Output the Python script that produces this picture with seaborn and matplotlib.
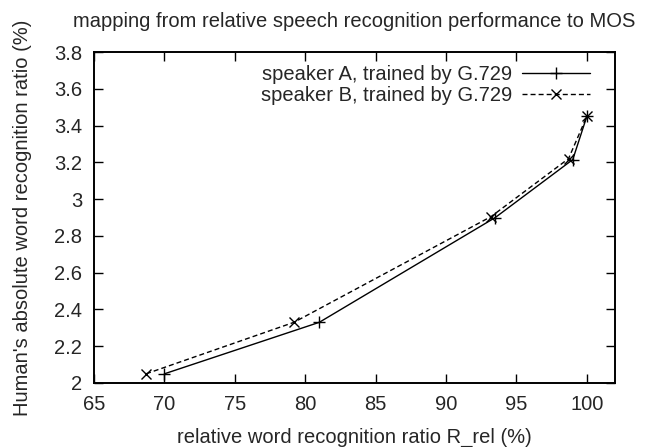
import matplotlib
matplotlib.use("Agg")
import matplotlib.pyplot as plt
import seaborn as sns

sns.set_theme(style="white")
plt.rcParams['font.family'] = ['Liberation Sans', 'DejaVu Sans']

title = "mapping from relative speech recognition performance to MOS"
xlabel = "relative word recognition ratio R_rel (%)"
ylabel = "Human's absolute word recognition ratio (%)"

label_a = "speaker A, trained by G.729"
a_x = [70.0, 81.0, 93.5, 99.0, 100.0]
a_y = [2.05, 2.33, 2.90, 3.215, 3.45]

label_b = "speaker B, trained by G.729"
b_x = [68.7, 79.2, 93.2, 98.7, 100.0]
b_y = [2.05, 2.33, 2.905, 3.22, 3.45]

xticks = [65, 70, 75, 80, 85, 90, 95, 100]
yticks = [2.0, 2.2, 2.4, 2.6, 2.8, 3.0, 3.2, 3.4, 3.6, 3.8]
ytick_labels = ["2", "2.2", "2.4", "2.6", "2.8", "3", "3.2", "3.4", "3.6", "3.8"]

FS = 14.5

fig = plt.figure(figsize=(6.52, 4.47), dpi=100)
ax = fig.add_axes([94/652, 1-383/447, (615-94)/652, (383-52)/447])

sns.lineplot(x=a_x, y=a_y, ax=ax, color="black", linewidth=1.0, marker="+",
             markersize=8, markeredgewidth=1.0, markeredgecolor="black",
             label=label_a, sort=False)
sns.lineplot(x=b_x, y=b_y, ax=ax, color="black", linewidth=1.0, marker="x",
             markersize=7, markeredgewidth=1.0, markeredgecolor="black",
             label=label_b, sort=False, linestyle=(0, (3.6, 2.2)))

ax.set_xlim(65, 102)
ax.set_ylim(2.0, 3.8)
ax.set_xticks(xticks)
ax.set_xticklabels([str(t) for t in xticks])
ax.set_yticks(yticks)
ax.set_yticklabels(ytick_labels)
ax.tick_params(direction="in", length=6.5, width=1, color="black", labelsize=FS,
               top=True, right=True, bottom=True, left=True, pad=8.5)
for s in ax.spines.values():
    s.set_color("black")
    s.set_linewidth(1.4)

ax.set_title(title, fontsize=FS, pad=18)
ax.set_xlabel(xlabel, fontsize=FS, labelpad=10)
ax.set_ylabel(ylabel, fontsize=FS, labelpad=16)

leg = ax.legend(loc="upper right", markerfirst=False, frameon=False, fontsize=FS,
                handlelength=3.4, handletextpad=0.45, labelspacing=0.1,
                borderpad=0.0, borderaxespad=0.0, bbox_to_anchor=(0.952, 0.96))

fig.savefig("out.png", dpi=100)
